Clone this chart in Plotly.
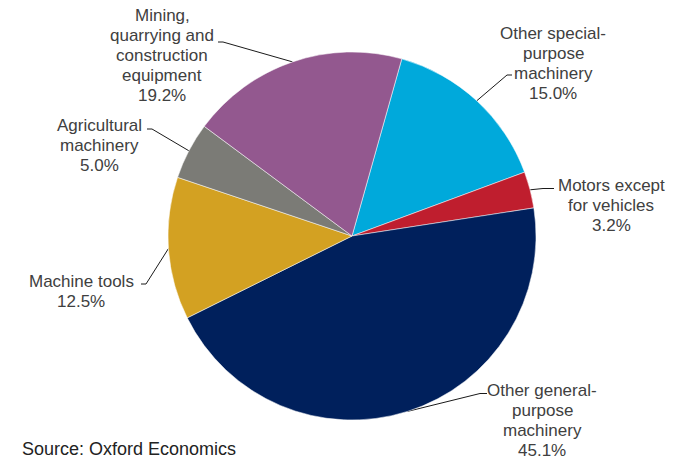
import math
import plotly.graph_objects as go

# Machinery output shares by segment (clockwise from the top)
segments = [
    "Other special-purpose machinery",
    "Motors except for vehicles",
    "Other general-purpose machinery",
    "Machine tools",
    "Agricultural machinery",
    "Mining, quarrying and construction equipment",
]
shares = [15.0, 3.2, 45.1, 12.5, 5.0, 19.2]
label_lines = [
    ["Other special-", "purpose", "machinery"],
    ["Motors except", "for vehicles"],
    ["Other general-", "purpose", "machinery"],
    ["Machine tools"],
    ["Agricultural", "machinery"],
    ["Mining,", "quarrying and", "construction", "equipment"],
]
colors = ["#00A9DB", "#BF1E2E", "#00205C", "#D3A122", "#7B7B76", "#93588F"]

W, H = 683, 459
CX, CY, R = 352, 236, 184
ROTATION = 15.7
FONT = "Liberation Sans, Arial, sans-serif"
LINE_GAP = 20

# label block centres and leader elbows (start of the short horizontal tick)
label_pos = [(553, 63), (611, 205), (542, 420), (81, 291), (99, 145), (162, 55)]
elbows = [((507, 75), (512, 75)), ((543, 188.5), (554, 188.5)),
          ((480, 393.5), (487, 393.5)), ((146, 284), (141, 284)),
          ((152, 129), (147, 129)), ((223, 42), (218, 42))]

fig = go.Figure()
fig.add_trace(go.Pie(
    labels=segments, values=shares, sort=False, direction="clockwise",
    rotation=ROTATION, textinfo="none", hoverinfo="label+percent",
    marker=dict(colors=colors, line=dict(color="white", width=0.5)),
    domain=dict(x=[(CX - R) / W, (CX + R) / W],
                y=[(H - CY - R) / H, (H - CY + R) / H]),
    showlegend=False,
))

total = sum(shares)
start = ROTATION
for i, v in enumerate(shares):
    sweep = v / total * 360
    mid = math.radians(start + sweep / 2)
    start += sweep
    ex, ey = CX + R * math.sin(mid), CY - R * math.cos(mid)
    (bx, by), (tx, ty) = elbows[i]
    fig.add_trace(go.Scatter(
        x=[ex, bx, tx], y=[ey, by, ty], mode="lines",
        line=dict(color="#1a1a1a", width=1), hoverinfo="skip",
        showlegend=False, xaxis="x", yaxis="y"))
    # one annotation per line keeps the tight line spacing of the labels
    lines = label_lines[i] + [f"{v:.1f}%"]
    lx, ly = label_pos[i]
    n = len(lines)
    for k, line in enumerate(lines):
        fig.add_annotation(
            x=lx, y=ly + (k - (n - 1) / 2) * LINE_GAP, xref="x", yref="y",
            showarrow=False, text=line, xanchor="center", yanchor="middle",
            font=dict(family=FONT, size=17, color="#404040"))

fig.add_annotation(
    x=20, y=437, xref="x", yref="y", showarrow=False,
    text="Source: Oxford Economics", xanchor="left", yanchor="top",
    font=dict(family=FONT, size=18, color="#222222"))

fig.update_layout(
    width=W, height=H, margin=dict(l=0, r=0, t=0, b=0),
    paper_bgcolor="white", plot_bgcolor="rgba(0,0,0,0)",
    xaxis=dict(range=[0, W], visible=False, fixedrange=True),
    yaxis=dict(range=[H, 0], visible=False, fixedrange=True),
)

fig.write_html("out.html")
